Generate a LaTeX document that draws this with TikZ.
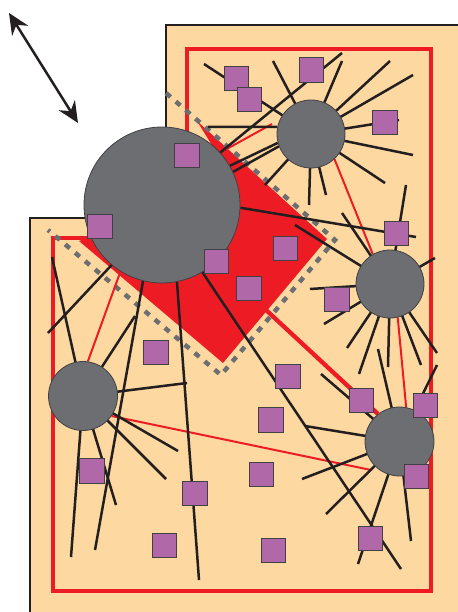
\documentclass[tikz,border=0pt]{standalone}
\usetikzlibrary{arrows.meta}
\definecolor{peach}{RGB}{253,216,161}
\definecolor{redc}{RGB}{237,28,36}
\definecolor{cgray}{RGB}{109,110,113}
\definecolor{cedge}{RGB}{65,64,66}
\definecolor{purp}{RGB}{177,104,168}
\definecolor{ink}{RGB}{35,31,32}
\pgfdeclarelayer{bg}
\pgfdeclarelayer{mid}
\pgfsetlayers{bg,mid,main}
\begin{document}
\begin{tikzpicture}[x=1pt,y=-1pt,
  spoke/.style={draw=ink,line width=2.5pt},
  thinred/.style={draw=redc,line width=2pt},
  hub/.style={circle,fill=cgray,draw=cedge,line width=0.8pt,inner sep=0pt},
  sq/.style={rectangle,fill=purp,draw=cedge,line width=1.1pt,minimum size=24.5pt,inner sep=0pt},
  dotted border/.style={draw=cgray,line width=4.5pt,dash pattern=on 6pt off 7pt},
  >={Stealth[length=21pt,width=19pt,inset=7pt]}
]
\useasboundingbox (0,0) rectangle (457,612);

% hubs
\node[hub,minimum size=156pt] (A) at (162,205) {};
\node[hub,minimum size=68pt] (B) at (311,134) {};
\node[hub,minimum size=68pt] (C) at (390,284) {};
\node[hub,minimum size=69pt] (D) at (83,396) {};
\node[hub,minimum size=69pt] (E) at (399.5,441.5) {};

% squares
\foreach \n/\x/\y in {1/236.5/78.5, 2/249.5/99.5, 3/311.5/70, 4/385/122.5,
  5/187/155.5, 6/100/226.5, 7/396.5/233.5, 8/285.5/248.5, 9/216.5/261.5,
  10/249/288.5, 11/337/299.5, 12/156/352.5, 13/288/376.5, 14/361.5/400.5,
  15/425.5/405.5, 16/271/420, 17/92/471, 18/261.5/474.5, 19/416.5/476.5,
  20/195/493.5, 21/370.5/538.5, 22/164.5/545.5, 23/273.5/550.5}
  {\node[sq] (s\n) at (\x,\y) {};}

% arrow
\coordinate (ar1) at (9,13);
\coordinate (ar2) at (78,123);
\draw[ink,line width=2.5pt,<->] (ar1) -- (ar2);

\begin{pgfonlayer}{bg}
  \fill[peach] (30,615) -- (30,218) -- (166,218) -- (166,25) -- (460,25) -- (460,615) -- cycle;
  \draw[ink,line width=2.2pt] (30,615) -- (30,218) -- (166,218) -- (166,25) -- (460,25);
  \draw[redc,line width=4.5pt] (53,591) -- (53,238) -- (187,238) -- (187,49) -- (431,49) -- (431,591) -- cycle;
  \fill[redc] (197,121) -- (327,239) -- (223,363) -- (79,241) -- (110,230) -- (218,155) -- cycle;
  \draw[dotted border] (166,93) -- (335,240) -- (221,375) -- (48,230);
\end{pgfonlayer}

\begin{pgfonlayer}{mid}
  % red connections
  \coordinate (rAB) at (272,124);
  \coordinate (rDE) at (371,470);
  \coordinate (rdiag) at (266,310);
  \draw[thinred] (A.42) -- (rAB);
  \draw[thinred] (B.-47) -- (C.120);
  \draw[thinred] (C.-77) -- (E.79);
  \draw[thinred] (D.-35) -- (rDE);
  \draw[thinred] (A.-122) -- (D.82);
  \draw[redc,line width=4.3pt] (rdiag) -- (E.128);

  % spokes from A
  \foreach \n/\ang/\x/\y in {1/42/342/53, 2/-2/416/237, 3/-59/401/569,
     4/-79/199/580, 5/-104/95/550, 6/-130/48/333}
    {\coordinate (a\n) at (\x,\y); \draw[spoke] (A.\ang) -- (a\n);}
  \draw[spoke] (B.195) -- (A.30);
  \draw[spoke] (B.201) -- (A.25);

  % spokes from B
  \foreach \n/\x/\y in {1/273/61, 2/342/61, 3/390/61, 4/413/75, 5/399/120,
     6/413/155, 7/385/183, 8/309/205, 9/326/195, 10/265/185, 11/204/64}
    {\coordinate (b\n) at (\x,\y); \draw[spoke] (B.center) -- (b\n);}
  \coordinate (b12) at (208,127);
  \draw[spoke] (B.168) -- (b12);

  % spokes from C
  \foreach \n/\x/\y in {1/406/185, 2/342/213, 3/295/225, 4/435/258, 5/310/289,
     6/324/324, 7/347/348, 8/359/374, 9/388/367, 10/421/365, 11/437/353}
    {\coordinate (c\n) at (\x,\y); \draw[spoke] (C.center) -- (c\n);}

  % spokes from D
  \foreach \n/\x/\y in {1/52/257, 2/135/316, 3/187/383, 4/71/557, 5/116/505,
     6/166/479, 7/178/451}
    {\coordinate (d\n) at (\x,\y); \draw[spoke] (D.center) -- (d\n);}

  % spokes from E
  \foreach \n/\x/\y in {1/321/374, 2/378/349, 3/437/365, 4/305/426, 5/358/564,
     6/326/514, 7/302/479, 8/411/541}
    {\coordinate (e\n) at (\x,\y); \draw[spoke] (E.center) -- (e\n);}
\end{pgfonlayer}
\end{tikzpicture}
\end{document}
